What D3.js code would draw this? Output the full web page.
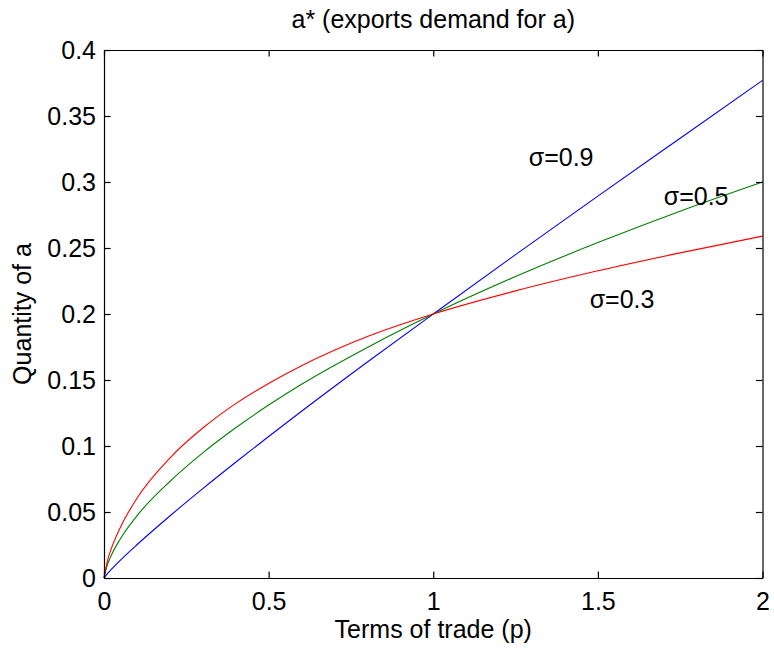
<!DOCTYPE html>
<html>
<head>
<meta charset="utf-8">
<script src="https://cdn.jsdelivr.net/npm/d3@7"></script>
<style>
  body { margin: 0; background: #fff; }
  text { font-family: Arial, "Liberation Sans", Helvetica, sans-serif; }
</style>
</head>
<body>
<div id="chart"></div>
<script>
// values
const pValues = [0, 0.01, 0.02, 0.05, 0.1, 0.2, 0.3, 0.4, 0.5, 0.6, 0.8, 1, 1.25, 1.5, 1.75, 2];
const sigma09 = [0, 0.0032, 0.0059, 0.0135, 0.0252, 0.0470, 0.0677, 0.0877, 0.1072, 0.1263, 0.1636, 0.2, 0.2450, 0.2893, 0.3332, 0.377];
const sigma05 = [0, 0.0098, 0.0160, 0.0298, 0.0471, 0.0731, 0.0948, 0.1138, 0.1310, 0.1468, 0.1747, 0.2, 0.2284, 0.2541, 0.2779, 0.300];
const sigma03 = [0, 0.0126, 0.0207, 0.0385, 0.0604, 0.0909, 0.1136, 0.1321, 0.1474, 0.1608, 0.1829, 0.2, 0.2175, 0.2327, 0.2463, 0.259];

const seriesNames = ["σ=0.9", "σ=0.5", "σ=0.3"];
const seriesColors = ["#0000ff", "#008000", "#ff0000"];
// label anchor positions in data units (p, quantity)
const labelP = [1.29, 1.70, 1.475];
const labelQ = [0.3124, 0.2829, 0.2045];

const xTicks = [0, 0.5, 1, 1.5, 2];
const xTickLabels = ["0", "0.5", "1", "1.5", "2"];
const yTicks = [0, 0.05, 0.1, 0.15, 0.2, 0.25, 0.3, 0.35, 0.4];
const yTickLabels = ["0", "0.05", "0.1", "0.15", "0.2", "0.25", "0.3", "0.35", "0.4"];

const width = 774, height = 654;
const margin = { top: 50, right: 11.5, bottom: 76, left: 104 };
const fontSize = 25;
const tick = 6.6;

const svg = d3.select("#chart").append("svg")
  .attr("width", width)
  .attr("height", height)
  .style("background", "#fff");

const x = d3.scaleLinear().domain([0, 2]).range([margin.left, width - margin.right]);
const y = d3.scaleLinear().domain([0, 0.4]).range([height - margin.bottom, margin.top]);

// lines
const allSeries = [sigma09, sigma05, sigma03];
const line = d3.line()
  .x(d => x(d[0]))
  .y(d => y(d[1]))
  .curve(d3.curveMonotoneX);

svg.append("g")
  .selectAll("path")
  .data(allSeries)
  .join("path")
  .attr("fill", "none")
  .attr("stroke", (d, i) => seriesColors[i])
  .attr("stroke-width", 1.1)
  .attr("d", s => line(pValues.map((p, i) => [p, s[i]])));

// axes with inward ticks on all four sides
svg.append("g")
  .attr("transform", `translate(0,${height - margin.bottom})`)
  .call(d3.axisBottom(x).tickValues(xTicks)
    .tickFormat((d, i) => xTickLabels[i])
    .tickSizeInner(-tick).tickSizeOuter(0).tickPadding(14));

svg.append("g")
  .attr("transform", `translate(${margin.left},0)`)
  .call(d3.axisLeft(y).tickValues(yTicks)
    .tickFormat((d, i) => yTickLabels[i])
    .tickSizeInner(-tick).tickSizeOuter(0).tickPadding(8));

svg.append("g")
  .attr("transform", `translate(0,${margin.top})`)
  .call(d3.axisTop(x).tickValues(xTicks).tickFormat("")
    .tickSizeInner(-tick).tickSizeOuter(0));

svg.append("g")
  .attr("transform", `translate(${width - margin.right},0)`)
  .call(d3.axisRight(y).tickValues(yTicks).tickFormat("")
    .tickSizeInner(-tick).tickSizeOuter(0));

svg.selectAll(".domain, .tick line").attr("stroke", "#000").attr("stroke-width", 1.2);
svg.selectAll(".tick text")
  .attr("fill", "#000")
  .style("font-size", fontSize + "px")
  .style("font-family", 'Arial, "Liberation Sans", Helvetica, sans-serif');

// series labels
svg.append("g")
  .selectAll("text")
  .data(seriesNames)
  .join("text")
  .attr("x", (d, i) => x(labelP[i]))
  .attr("y", (d, i) => y(labelQ[i]))
  .attr("font-size", fontSize)
  .attr("fill", "#000")
  .text(d => d);

// title and axis labels
const cx = (margin.left + width - margin.right) / 2;
const cy = (margin.top + height - margin.bottom) / 2;

svg.append("text")
  .attr("x", cx)
  .attr("y", 28)
  .attr("text-anchor", "middle")
  .attr("font-size", fontSize)
  .text("a* (exports demand for a)");

svg.append("text")
  .attr("x", cx)
  .attr("y", 638)
  .attr("text-anchor", "middle")
  .attr("font-size", fontSize)
  .text("Terms of trade (p)");

svg.append("text")
  .attr("transform", `translate(31,${cy}) rotate(-90)`)
  .attr("text-anchor", "middle")
  .attr("font-size", fontSize)
  .text("Quantity of a");
</script>
</body>
</html>
